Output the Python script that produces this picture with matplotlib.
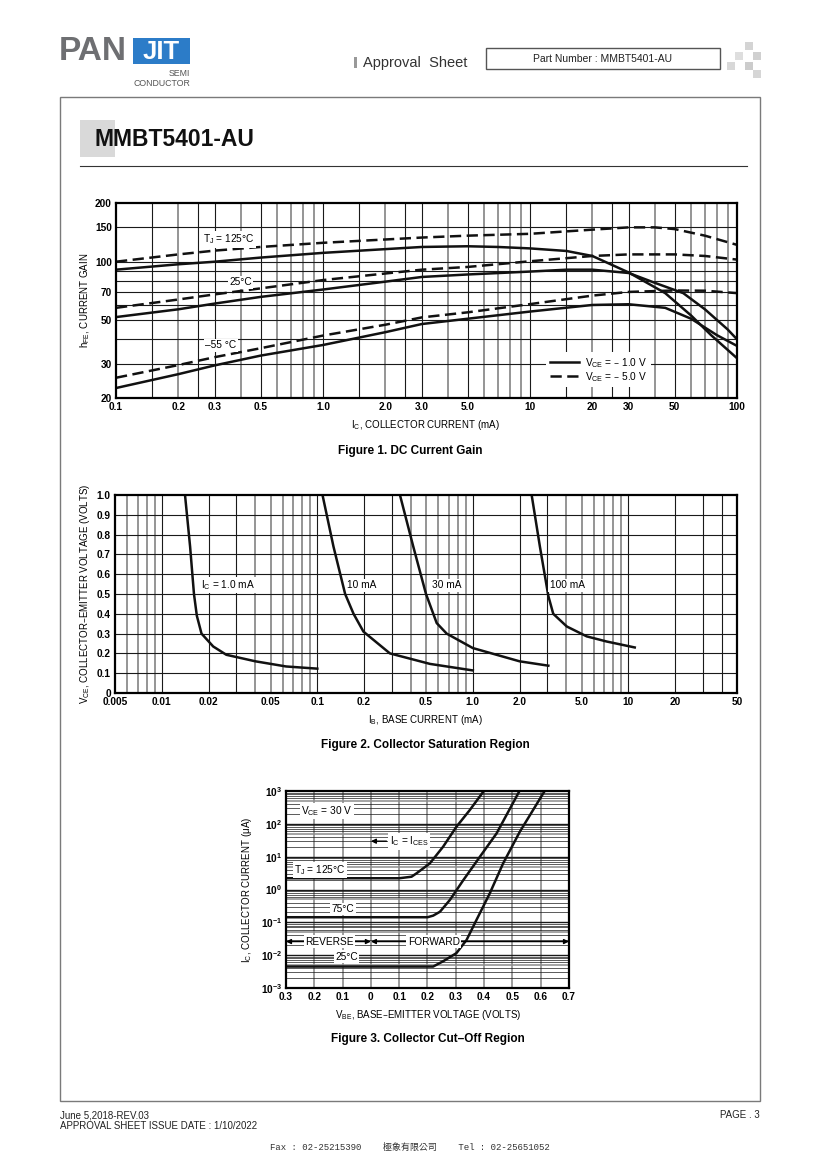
import matplotlib
matplotlib.use('Agg')
import matplotlib.pyplot as plt
from matplotlib.patches import Rectangle
from matplotlib.lines import Line2D
from matplotlib.ticker import NullLocator

plt.rcParams['font.family'] = ['Liberation Sans Narrow', 'Liberation Sans', 'DejaVu Sans']
plt.rcParams['mathtext.default'] = 'regular'

W, H = 820, 1160

# ---- Figure 1: DC current gain (hFE vs IC) ----
ic_125_v5 = [0.1, 0.2, 0.3, 0.5, 1, 2, 3, 5, 10, 20, 30, 40, 50, 70, 100]
hfe_125_v5 = [100, 109, 114, 119, 125, 130, 133, 136, 139, 146, 150, 150, 147, 136, 122]
ic_125_v1 = [0.1, 0.2, 0.3, 0.5, 1, 2, 3, 5, 7, 10, 15, 20, 30, 45, 60, 75, 100]
hfe_125_v1 = [91, 97, 100, 105, 111, 116, 119, 120, 119, 117, 113.5, 107, 88, 69, 53, 42, 32]
ic_25_v5 = [0.1, 0.2, 0.3, 0.5, 1, 2, 3, 5, 10, 20, 30, 50, 70, 100]
hfe_25_v5 = [58, 64, 68, 73, 80.5, 87, 91, 94, 100.5, 107, 109, 109, 107, 102.5]
ic_25_v1 = [0.1, 0.2, 0.3, 0.5, 1, 2, 3, 5, 10, 15, 20, 30, 40, 55, 70, 90, 100]
hfe_25_v1 = [52, 57, 61, 66, 72, 79, 83.5, 86, 89, 91, 91, 87.5, 78, 69, 57, 45, 40]
ic_m55_v5 = [0.1, 0.2, 0.3, 0.5, 1, 2, 3, 5, 10, 20, 30, 50, 70, 100]
hfe_m55_v5 = [25.4, 29.5, 32.4, 36, 41.8, 47.5, 51.8, 55, 60.6, 67, 70, 71.2, 71, 69]
ic_m55_v1 = [0.1, 0.2, 0.3, 0.5, 1, 2, 3, 5, 10, 20, 30, 45, 60, 80, 100]
hfe_m55_v1 = [22.5, 26.5, 29.4, 33, 37.4, 43.5, 47.9, 51, 55.5, 60, 60.5, 58, 51, 42, 37]
f1_xticks = [0.1, 0.2, 0.3, 0.5, 1, 2, 3, 5, 10, 20, 30, 50, 100]
f1_xlabels = ['0.1', '0.2', '0.3', '0.5', '1.0', '2.0', '3.0', '5.0', '10', '20', '30', '50', '100']
f1_yticks = [20, 30, 50, 70, 100, 150, 200]

# ---- Figure 2: collector saturation region (VCE vs IB) ----
ib_1 = [0.0141, 0.0152, 0.0161, 0.0168, 0.018, 0.0214, 0.026, 0.04, 0.063, 0.1]
vce_1 = [1.0, 0.74, 0.50, 0.39, 0.30, 0.235, 0.193, 0.16, 0.134, 0.123]
ib_10 = [0.108, 0.127, 0.151, 0.171, 0.198, 0.293, 0.53, 1.0]
vce_10 = [1.0, 0.74, 0.50, 0.40, 0.31, 0.20, 0.147, 0.114]
ib_30 = [0.34, 0.414, 0.50, 0.586, 0.679, 1.0, 2.0, 3.06]
vce_30 = [1.0, 0.74, 0.50, 0.353, 0.30, 0.227, 0.16, 0.138]
ib_100 = [2.39, 2.70, 3.06, 3.29, 4.02, 5.4, 7.26, 11.0]
vce_100 = [1.0, 0.74, 0.49, 0.40, 0.336, 0.286, 0.26, 0.23]
f2_xticks = [0.005, 0.01, 0.02, 0.05, 0.1, 0.2, 0.5, 1, 2, 5, 10, 20, 50]
f2_xlabels = ['0.005', '0.01', '0.02', '0.05', '0.1', '0.2', '0.5', '1.0', '2.0', '5.0', '10', '20', '50']
f2_yticks = [0, 0.1, 0.2, 0.3, 0.4, 0.5, 0.6, 0.7, 0.8, 0.9, 1.0]

# ---- Figure 3: collector cut-off region (IC vs VBE) ----
vbe_125 = [-0.3, 0.1, 0.1435, 0.161, 0.208, 0.255, 0.302, 0.349, 0.399]
icut_125 = [2.2, 2.2, 2.45, 3.1, 6.2, 20, 81, 260, 1000]
vbe_75 = [-0.3, 0.2, 0.22, 0.244, 0.279, 0.326, 0.385, 0.444, 0.525]
icut_75 = [0.143, 0.143, 0.16, 0.21, 0.48, 1.9, 9.9, 51, 1000]
vbe_25 = [-0.3, 0.22, 0.255, 0.302, 0.338, 0.373, 0.42, 0.467, 0.526, 0.614]
icut_25 = [0.0045, 0.0045, 0.0065, 0.0115, 0.029, 0.118, 0.76, 6.2, 57, 1000]
f3_xticks = [-0.3, -0.2, -0.1, 0, 0.1, 0.2, 0.3, 0.4, 0.5, 0.6, 0.7]
f3_xlabels = ['0.3', '0.2', '0.1', '0', '0.1', '0.2', '0.3', '0.4', '0.5', '0.6', '0.7']
f3_yticks = [1e-3, 1e-2, 1e-1, 1e0, 1e1, 1e2, 1e3]
f3_ylabels = ['$10^{-3}$', '$10^{-2}$', '$10^{-1}$', '$10^{0}$', '$10^{1}$', '$10^{2}$', '$10^{3}$']

DARK = '#1a1a1a'
GRAY = '#8c8c8c'
LBL = dict(facecolor='white', edgecolor='none', pad=1.0)

fig = plt.figure(figsize=(W / 100, H / 100), dpi=100)


def add_ax(x0, y0, x1, y1):
    return fig.add_axes([x0 / W, 1 - y1 / H, (x1 - x0) / W, (y1 - y0) / H])


def ftext(x, y, s, **kw):
    fig.text(x / W, 1 - y / H, s, **kw)


def frect(x0, y0, x1, y1, **kw):
    fig.add_artist(Rectangle((x0 / W, 1 - y1 / H), (x1 - x0) / W, (y1 - y0) / H,
                             transform=fig.transFigure, **kw))


def style_axes(ax):
    for s in ax.spines.values():
        s.set_linewidth(1.6)
        s.set_color('black')
        s.set_zorder(6)
    ax.tick_params(length=0, labelsize=7.3, pad=3)
    for lab in ax.get_xticklabels() + ax.get_yticklabels():
        lab.set_fontweight('bold')
    ax.xaxis.set_minor_locator(NullLocator())
    ax.yaxis.set_minor_locator(NullLocator())


def log_lines(decades, mults, lo, hi):
    out = []
    for d in decades:
        for m in mults:
            v = d * m
            if lo < v < hi:
                out.append(v)
    return out


# ---------------- page decoration ----------------
ftext(59, 51, 'PAN', fontsize=24, fontweight='bold', color='#6e6f72',
      family=['Liberation Sans', 'DejaVu Sans'], va='center', ha='left')
frect(133, 38, 190, 64, facecolor='#2c7cc8', edgecolor='none')
ftext(161.5, 52, 'JIT', fontsize=18.5, fontweight='bold', color='white',
      family=['Liberation Sans', 'DejaVu Sans'], va='center', ha='center')
ftext(190, 73, 'SEMI', fontsize=6.3, color='#555555', ha='right', va='center')
ftext(190, 83, 'CONDUCTOR', fontsize=6.3, color='#555555', ha='right', va='center')

frect(354, 57, 357, 68, facecolor='#999999', edgecolor='none')
ftext(363, 62.5, 'Approval  Sheet', fontsize=10.5, color='#333333', va='center', ha='left',
      family=['Liberation Sans', 'DejaVu Sans'])
frect(486, 48, 720, 69, facecolor='none', edgecolor='#555555', linewidth=1)
ftext(603, 58.5, 'Part Number : MMBT5401-AU', fontsize=7.5, color='#222222', va='center', ha='center')
for (sx, sy, c) in [(745, 42, '#d4d4d4'), (735, 52, '#dedede'), (753, 52, '#d0d0d0'),
                    (727, 62, '#d8d8d8'), (745, 62, '#cccccc'), (753, 70, '#d6d6d6')]:
    frect(sx, sy, sx + 8, sy + 8, facecolor=c, edgecolor='none')

frect(60, 97, 760, 1101, facecolor='none', edgecolor='#7a7a7a', linewidth=1)
frect(80, 120, 115, 157, facecolor='#d9d9d9', edgecolor='none')
ftext(95, 140, 'MMBT5401-AU', fontsize=16.5, fontweight='bold', color='#111111',
      family=['Liberation Sans', 'DejaVu Sans'], va='center', ha='left')
fig.add_artist(Line2D([80 / W, 747 / W], [1 - 166 / H, 1 - 166 / H], transform=fig.transFigure,
                      color='#333333', linewidth=0.8))

# ---------------- Figure 1 ----------------
ax1 = add_ax(116, 203, 737, 398)
ax1.set_xscale('log')
ax1.set_yscale('log')
ax1.set_xlim(0.1, 100)
ax1.set_ylim(20, 200)
for x in log_lines([0.1, 1, 10], [1, 1.5, 2.5, 3, 5], 0.1, 100):
    ax1.axvline(x, color=DARK, lw=0.8, zorder=1)
for x in log_lines([0.1, 1, 10], [2, 4, 6, 7, 8, 9], 0.1, 100):
    ax1.axvline(x, color=GRAY, lw=1.3, zorder=1)
for y in [30, 40, 50, 60, 70, 80, 90, 100, 150]:
    ax1.axhline(y, color=DARK, lw=0.8, zorder=1)

v5 = dict(color='#111111', lw=1.8, dashes=(4.5, 2.2), zorder=3)
v1 = dict(color='#111111', lw=1.8, zorder=3)
ax1.plot(ic_125_v5, hfe_125_v5, **v5)
ax1.plot(ic_125_v1, hfe_125_v1, **v1)
ax1.plot(ic_25_v5, hfe_25_v5, **v5)
ax1.plot(ic_25_v1, hfe_25_v1, **v1)
ax1.plot(ic_m55_v5, hfe_m55_v5, **v5)
ax1.plot(ic_m55_v1, hfe_m55_v1, **v1)

ax1.text(0.35, 130, '$T_J$ = 125°C', fontsize=7.3, ha='center', va='center', bbox=LBL, zorder=4)
ax1.text(0.40, 78.3, '25°C', fontsize=7.3, ha='center', va='center', bbox=LBL, zorder=4)
ax1.text(0.32, 37.3, '–55 °C', fontsize=7.3, ha='center', va='center', bbox=LBL, zorder=4)

handles = [Line2D([], [], **v1), Line2D([], [], **v5)]
leg = ax1.legend(handles, ['$V_{CE}$ = – 1.0 V', '$V_{CE}$ = – 5.0 V'], loc='upper left',
                 bbox_to_anchor=(0.693, 0.235), fontsize=7.3, frameon=True, fancybox=False,
                 handlelength=2.9, handletextpad=0.6, labelspacing=0.05, borderpad=0.35,
                 borderaxespad=0)
leg.get_frame().set_facecolor('white')
leg.get_frame().set_edgecolor('none')
leg.get_frame().set_alpha(1)
leg.set_zorder(5)

ax1.set_xticks(f1_xticks)
ax1.set_xticklabels(f1_xlabels)
ax1.set_yticks(f1_yticks)
ax1.set_yticklabels([str(v) for v in f1_yticks])
style_axes(ax1)

ftext(425, 425, '$I_C$, COLLECTOR CURRENT (mA)', fontsize=7, ha='center', va='center')
ftext(85, 300, '$h_{FE}$, CURRENT GAIN', fontsize=7, ha='center', va='center', rotation=90)
ftext(410, 451, 'Figure 1. DC Current Gain', fontsize=8.5, fontweight='bold', ha='center', va='center',
      family=['Liberation Sans', 'DejaVu Sans'])

# ---------------- Figure 2 ----------------
ax2 = add_ax(115, 495, 737, 693)
ax2.set_xscale('log')
ax2.set_xlim(0.005, 50)
ax2.set_ylim(0, 1.0)
for x in log_lines([0.001, 0.01, 0.1, 1, 10], [1, 2, 3], 0.005, 50):
    ax2.axvline(x, color=DARK, lw=0.8, zorder=1)
for x in log_lines([0.001, 0.01, 0.1, 1], [4, 5, 6, 7, 8, 9], 0.005, 50):
    ax2.axvline(x, color=GRAY, lw=1.3, zorder=1)
ax2.axvline(40, color=DARK, lw=0.8, zorder=1)
for y in f2_yticks[1:-1]:
    ax2.axhline(y, color=DARK, lw=0.8, zorder=1)

ax2.plot(ib_1, vce_1, **v1)
ax2.plot(ib_10, vce_10, **v1)
ax2.plot(ib_30, vce_30, **v1)
ax2.plot(ib_100, vce_100, **v1)
ax2.text(0.0179, 0.545, '$I_C$ = 1.0 mA', fontsize=7.3, ha='left', va='center', bbox=LBL, zorder=4)
ax2.text(0.156, 0.545, '10 mA', fontsize=7.3, ha='left', va='center', bbox=LBL, zorder=4)
ax2.text(0.544, 0.545, '30 mA', fontsize=7.3, ha='left', va='center', bbox=LBL, zorder=4)
ax2.text(3.13, 0.545, '100 mA', fontsize=7.3, ha='left', va='center', bbox=LBL, zorder=4)

ax2.set_xticks(f2_xticks)
ax2.set_xticklabels(f2_xlabels)
ax2.set_yticks(f2_yticks)
ax2.set_yticklabels(['0'] + ['%.1f' % v for v in f2_yticks[1:]])
style_axes(ax2)

ftext(425, 720, '$I_B$, BASE CURRENT (mA)', fontsize=7, ha='center', va='center')
ftext(85, 594, '$V_{CE}$, COLLECTOR–EMITTER VOLTAGE (VOLTS)', fontsize=7, ha='center', va='center',
      rotation=90)
ftext(425, 745, 'Figure 2. Collector Saturation Region', fontsize=8.5, fontweight='bold',
      ha='center', va='center', family=['Liberation Sans', 'DejaVu Sans'])

# ---------------- Figure 3 ----------------
ax3 = add_ax(286, 791, 569, 988)
ax3.set_yscale('log')
ax3.set_xlim(-0.3, 0.7)
ax3.set_ylim(1e-3, 1e3)
for x in f3_xticks[1:-1]:
    ax3.axvline(x, color=GRAY, lw=1.2, zorder=1)
for y in f3_yticks[1:-1]:
    ax3.axhline(y, color=DARK, lw=1.0, zorder=1)
for y in log_lines([1e-3, 1e-2, 1e-1, 1, 10, 100], [2, 3, 4, 6, 7, 8, 9], 1e-3, 1e3):
    ax3.axhline(y, color=DARK, lw=0.5, zorder=1)
for y in log_lines([1e-3, 1e-2, 1e-1, 1, 10, 100], [5], 1e-3, 1e3):
    ax3.axhline(y, color=GRAY, lw=1.1, zorder=1)

ax3.plot(vbe_125, icut_125, **v1)
ax3.plot(vbe_75, icut_75, **v1)
ax3.plot(vbe_25, icut_25, **v1)

ax3.text(-0.156, 247, '$V_{CE}$ = 30 V', fontsize=7.3, ha='center', va='center', bbox=LBL, zorder=4)
ax3.text(-0.18, 3.9, '$T_J$ = 125°C', fontsize=7.3, ha='center', va='center', bbox=LBL, zorder=4)
ax3.text(-0.098, 0.255, '75°C', fontsize=7.3, ha='center', va='center', bbox=LBL, zorder=4)
ax3.text(-0.086, 0.0091, '25°C', fontsize=7.3, ha='center', va='center', bbox=LBL, zorder=4)
ax3.text(0.067, 29.6, '$I_C$ = $I_{CES}$', fontsize=7.3, ha='left', va='center', bbox=LBL, zorder=4)
ax3.annotate('', xy=(0.0, 29.6), xytext=(0.055, 29.6), zorder=5,
             arrowprops=dict(arrowstyle='-|>', color='black', lw=1.0, shrinkA=0, shrinkB=0,
                             mutation_scale=7))
arrow_y = 0.026
ax3.annotate('', xy=(-0.3, arrow_y), xytext=(0.0, arrow_y), zorder=3,
             arrowprops=dict(arrowstyle='<|-|>', color='black', lw=1.0, shrinkA=0, shrinkB=0,
                             mutation_scale=7))
ax3.annotate('', xy=(0.0, arrow_y), xytext=(0.7, arrow_y), zorder=3,
             arrowprops=dict(arrowstyle='<|-|>', color='black', lw=1.0, shrinkA=0, shrinkB=0,
                             mutation_scale=7))
ax3.text(-0.147, arrow_y, 'REVERSE', fontsize=7.3, ha='center', va='center', bbox=LBL, zorder=4)
ax3.text(0.222, arrow_y, 'FORWARD', fontsize=7.3, ha='center', va='center', bbox=LBL, zorder=4)

ax3.set_xticks(f3_xticks)
ax3.set_xticklabels(f3_xlabels)
ax3.set_yticks(f3_yticks)
ax3.set_yticklabels(f3_ylabels)
style_axes(ax3)

ftext(428, 1015, '$V_{BE}$, BASE–EMITTER VOLTAGE (VOLTS)', fontsize=7, ha='center', va='center')
ftext(247, 890, '$I_C$, COLLECTOR CURRENT (μA)', fontsize=7, ha='center', va='center', rotation=90)
ftext(428, 1039, 'Figure 3. Collector Cut–Off Region', fontsize=8.5, fontweight='bold',
      ha='center', va='center', family=['Liberation Sans', 'DejaVu Sans'])

# ---------------- footer ----------------
ftext(60, 1115, 'June 5,2018-REV.03', fontsize=7, color='#222222', va='center', ha='left')
ftext(60, 1126, 'APPROVAL SHEET ISSUE DATE : 1/10/2022', fontsize=7, color='#222222', va='center', ha='left')
ftext(760, 1115, 'PAGE . 3', fontsize=7, color='#222222', va='center', ha='right')
ftext(410, 1147, 'Fax : 02-25215390    極象有限公司    Tel : 02-25651052', fontsize=6.5, color='#333333',
      va='center', ha='center', family=['Liberation Mono', 'Noto Sans CJK TC'])

fig.savefig('out.png', dpi=100)
